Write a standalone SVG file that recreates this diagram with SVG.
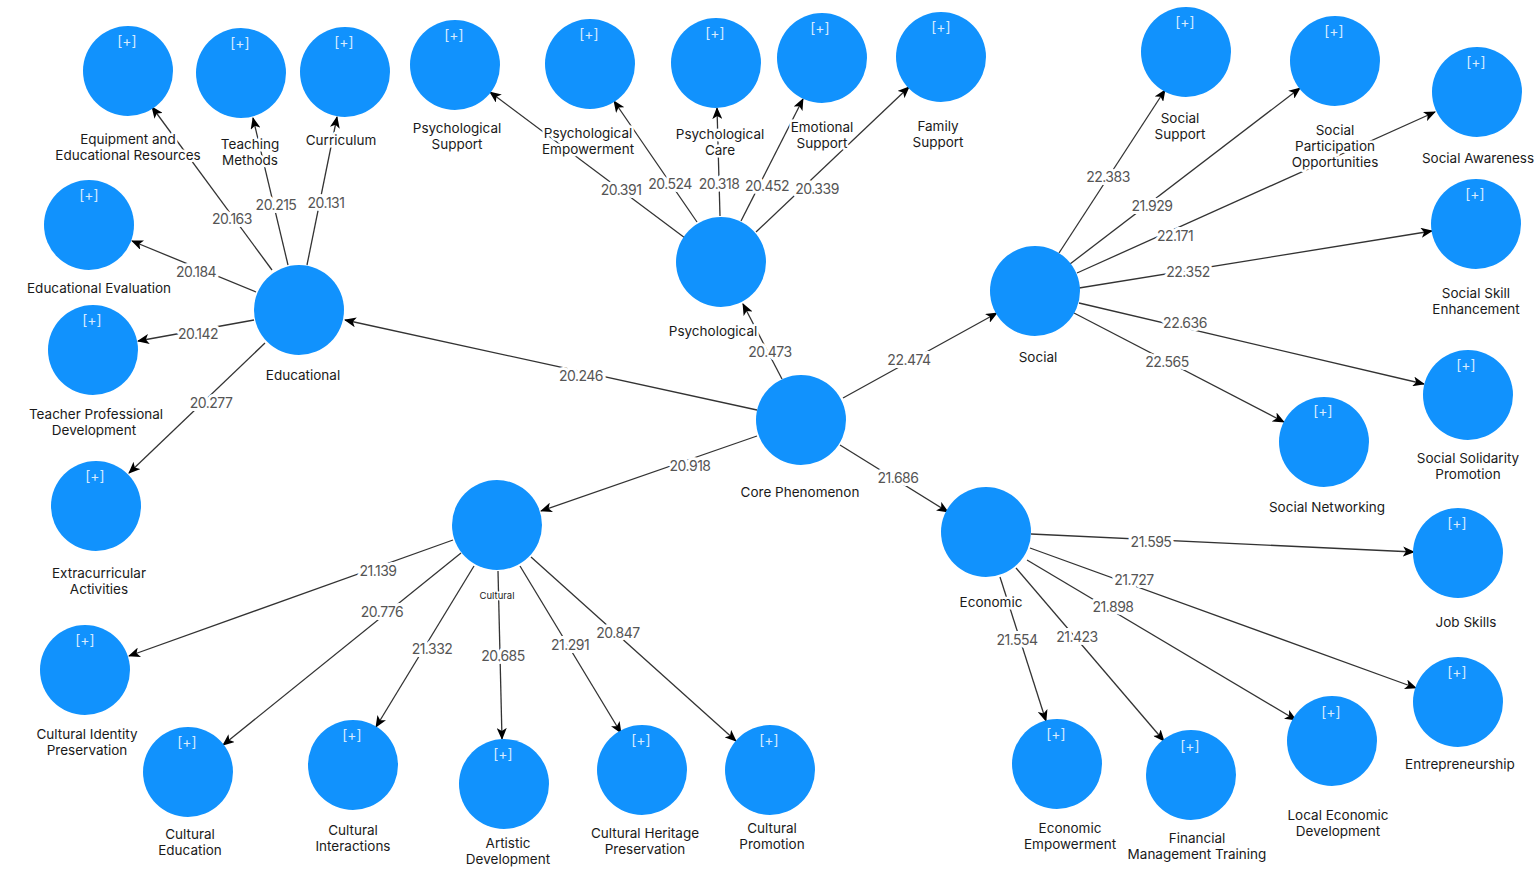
<svg xmlns="http://www.w3.org/2000/svg" width="1538" height="888" viewBox="0 0 1538 888">
<defs>
<marker id="ah" markerWidth="12" markerHeight="10" refX="11" refY="5" orient="auto" markerUnits="userSpaceOnUse">
<path d="M0,0 L12,5 L0,10 L3,5 Z" fill="#000"/>
</marker>
<style>
.c{fill:#1192FD}
.p{font-family:Inter,"Noto Sans",sans-serif;font-size:14px;fill:#d6ebff;text-anchor:middle}
.l{font-family:Inter,"Noto Sans",sans-serif;font-size:13.5px;fill:#1a1a1a;text-anchor:middle;paint-order:stroke;stroke:#fff;stroke-width:5px;stroke-linejoin:round}
.e{stroke:#333;stroke-width:1.3;fill:none;marker-end:url(#ah)}
.n{font-family:Inter,"Noto Sans",sans-serif;font-size:14px;fill:#555;text-anchor:middle;letter-spacing:-0.5px;paint-order:stroke;stroke:#fff;stroke-width:6px;stroke-linejoin:round}
</style>
</defs>
<rect width="1538" height="888" fill="#fff"/>
<g id="connectors">
<line class="e" x1="757" y1="410" x2="345" y2="320"/>
<line class="e" x1="782" y1="379" x2="743" y2="304"/>
<line class="e" x1="843" y1="398" x2="997" y2="313"/>
<line class="e" x1="757" y1="436" x2="541" y2="511"/>
<line class="e" x1="840" y1="445" x2="948" y2="512"/>
<line class="e" x1="272" y1="270" x2="152" y2="107"/>
<line class="e" x1="288" y1="265" x2="253" y2="118"/>
<line class="e" x1="307" y1="265" x2="337" y2="117"/>
<line class="e" x1="256" y1="292" x2="132" y2="241"/>
<line class="e" x1="254" y1="320" x2="138" y2="341"/>
<line class="e" x1="265" y1="343" x2="129" y2="473"/>
<line class="e" x1="685" y1="238" x2="490" y2="92"/>
<line class="e" x1="697" y1="222" x2="614" y2="101"/>
<line class="e" x1="720" y1="216" x2="717" y2="108"/>
<line class="e" x1="741" y1="221" x2="803" y2="99"/>
<line class="e" x1="756" y1="232" x2="909" y2="87"/>
<line class="e" x1="1059" y1="253" x2="1165" y2="90"/>
<line class="e" x1="1070" y1="264" x2="1300" y2="88"/>
<line class="e" x1="1077" y1="273" x2="1435" y2="112"/>
<line class="e" x1="1079" y1="288" x2="1432" y2="231"/>
<line class="e" x1="1079" y1="303" x2="1424" y2="384"/>
<line class="e" x1="1074" y1="313" x2="1284" y2="422"/>
<line class="e" x1="1031" y1="534" x2="1414" y2="552"/>
<line class="e" x1="1030" y1="548" x2="1416" y2="688"/>
<line class="e" x1="1027" y1="560" x2="1296" y2="720"/>
<line class="e" x1="1016" y1="568" x2="1164" y2="741"/>
<line class="e" x1="1000" y1="577" x2="1046" y2="721"/>
<line class="e" x1="453" y1="540" x2="129" y2="656"/>
<line class="e" x1="461" y1="553" x2="223" y2="745"/>
<line class="e" x1="474" y1="566" x2="376" y2="727"/>
<line class="e" x1="498" y1="571" x2="502" y2="739"/>
<line class="e" x1="520" y1="566" x2="621" y2="733"/>
<line class="e" x1="531" y1="557" x2="736" y2="741"/>
<g id="edge-labels">
<text class="n" x="581" y="381">20.246</text>
<text class="n" x="770" y="357">20.473</text>
<text class="n" x="909" y="365">22.474</text>
<text class="n" x="690" y="471">20.918</text>
<text class="n" x="898" y="483">21.686</text>
<text class="n" x="232" y="224">20.163</text>
<text class="n" x="276" y="210">20.215</text>
<text class="n" x="326" y="208">20.131</text>
<text class="n" x="196" y="277">20.184</text>
<text class="n" x="198" y="339">20.142</text>
<text class="n" x="211" y="408">20.277</text>
<text class="n" x="621" y="195">20.391</text>
<text class="n" x="670" y="189">20.524</text>
<text class="n" x="719" y="189">20.318</text>
<text class="n" x="767" y="191">20.452</text>
<text class="n" x="817" y="194">20.339</text>
<text class="n" x="1108" y="182">22.383</text>
<text class="n" x="1152" y="211">21.929</text>
<text class="n" x="1175" y="241">22.171</text>
<text class="n" x="1188" y="277">22.352</text>
<text class="n" x="1185" y="328">22.636</text>
<text class="n" x="1167" y="367">22.565</text>
<text class="n" x="1151" y="547">21.595</text>
<text class="n" x="1134" y="585">21.727</text>
<text class="n" x="1113" y="612">21.898</text>
<text class="n" x="1077" y="642">21.423</text>
<text class="n" x="1017" y="645">21.554</text>
<text class="n" x="378" y="576">21.139</text>
<text class="n" x="382" y="617">20.776</text>
<text class="n" x="432" y="654">21.332</text>
<text class="n" x="503" y="661">20.685</text>
<text class="n" x="570" y="650">21.291</text>
<text class="n" x="618" y="638">20.847</text>
</g>
</g>
<g id="nodes">
<g id="core"><circle class="c" cx="801" cy="420" r="45"/><text class="l" x="800" y="497">Core Phenomenon</text></g>
<g id="educational"><circle class="c" cx="299" cy="310" r="45"/><text class="l" x="303" y="380">Educational</text></g>
<g id="psychological"><circle class="c" cx="721" cy="262" r="45"/><text class="l" x="713" y="336">Psychological</text></g>
<g id="social"><circle class="c" cx="1035" cy="291" r="45"/><text class="l" x="1038" y="362">Social</text></g>
<g id="cultural"><circle class="c" cx="497" cy="525" r="45"/><text class="l" x="497" y="599" style="font-size:9.5px;stroke-width:3px">Cultural</text></g>
<g id="economic"><circle class="c" cx="986" cy="532" r="45"/><text class="l" x="991" y="607">Economic</text></g>

<g id="equipment"><circle class="c" cx="128" cy="71" r="45"/><text class="p" x="127" y="46">[+]</text><text class="l" x="128" y="144">Equipment and</text><text class="l" x="128" y="160">Educational Resources</text></g>
<g id="teaching"><circle class="c" cx="241" cy="73" r="45"/><text class="p" x="240" y="48">[+]</text><text class="l" x="250" y="149">Teaching</text><text class="l" x="250" y="165">Methods</text></g>
<g id="curriculum"><circle class="c" cx="345" cy="72" r="45"/><text class="p" x="344" y="47">[+]</text><text class="l" x="341" y="145">Curriculum</text></g>
<g id="evaluation"><circle class="c" cx="89" cy="225" r="45"/><text class="p" x="89" y="200">[+]</text><text class="l" x="99" y="293">Educational Evaluation</text></g>
<g id="teacher-pd"><circle class="c" cx="93" cy="350" r="45"/><text class="p" x="92" y="325">[+]</text><text class="l" x="96" y="419">Teacher Professional</text><text class="l" x="94" y="435">Development</text></g>
<g id="extracurricular"><circle class="c" cx="96" cy="506" r="45"/><text class="p" x="95" y="481">[+]</text><text class="l" x="99" y="578">Extracurricular</text><text class="l" x="99" y="594">Activities</text></g>

<g id="psych-support"><circle class="c" cx="455" cy="65" r="45"/><text class="p" x="454" y="40">[+]</text><text class="l" x="457" y="133">Psychological</text><text class="l" x="457" y="149">Support</text></g>
<g id="psych-empowerment"><circle class="c" cx="590" cy="64" r="45"/><text class="p" x="589" y="39">[+]</text><text class="l" x="588" y="138">Psychological</text><text class="l" x="588" y="154">Empowerment</text></g>
<g id="psych-care"><circle class="c" cx="716" cy="63" r="45"/><text class="p" x="715" y="38">[+]</text><text class="l" x="720" y="139">Psychological</text><text class="l" x="720" y="155">Care</text></g>
<g id="emotional"><circle class="c" cx="822" cy="58" r="45"/><text class="p" x="820" y="33">[+]</text><text class="l" x="822" y="132">Emotional</text><text class="l" x="822" y="148">Support</text></g>
<g id="family"><circle class="c" cx="941" cy="57" r="45"/><text class="p" x="941" y="32">[+]</text><text class="l" x="938" y="131">Family</text><text class="l" x="938" y="147">Support</text></g>

<g id="social-support"><circle class="c" cx="1186" cy="52" r="45"/><text class="p" x="1185" y="27">[+]</text><text class="l" x="1180" y="123">Social</text><text class="l" x="1180" y="139">Support</text></g>
<g id="social-participation"><circle class="c" cx="1335" cy="61" r="45"/><text class="p" x="1334" y="36">[+]</text><text class="l" x="1335" y="135">Social</text><text class="l" x="1335" y="151">Participation</text><text class="l" x="1335" y="167">Opportunities</text></g>
<g id="social-awareness"><circle class="c" cx="1477" cy="92" r="45"/><text class="p" x="1476" y="67">[+]</text><text class="l" x="1478" y="163">Social Awareness</text></g>
<g id="social-skill"><circle class="c" cx="1476" cy="224" r="45"/><text class="p" x="1475" y="199">[+]</text><text class="l" x="1476" y="298">Social Skill</text><text class="l" x="1476" y="314">Enhancement</text></g>
<g id="social-solidarity"><circle class="c" cx="1468" cy="395" r="45"/><text class="p" x="1466" y="370">[+]</text><text class="l" x="1468" y="463">Social Solidarity</text><text class="l" x="1468" y="479">Promotion</text></g>
<g id="social-networking"><circle class="c" cx="1324" cy="442" r="45"/><text class="p" x="1323" y="416">[+]</text><text class="l" x="1327" y="512">Social Networking</text></g>

<g id="job-skills"><circle class="c" cx="1458" cy="553" r="45"/><text class="p" x="1457" y="528">[+]</text><text class="l" x="1466" y="627">Job Skills</text></g>
<g id="entrepreneurship"><circle class="c" cx="1458" cy="702" r="45"/><text class="p" x="1457" y="677">[+]</text><text class="l" x="1460" y="769">Entrepreneurship</text></g>
<g id="local-econ"><circle class="c" cx="1332" cy="741" r="45"/><text class="p" x="1331" y="717">[+]</text><text class="l" x="1338" y="820">Local Economic</text><text class="l" x="1338" y="836">Development</text></g>
<g id="financial"><circle class="c" cx="1191" cy="775" r="45"/><text class="p" x="1190" y="751">[+]</text><text class="l" x="1197" y="843">Financial</text><text class="l" x="1197" y="859">Management Training</text></g>
<g id="econ-empowerment"><circle class="c" cx="1057" cy="764" r="45"/><text class="p" x="1056" y="739">[+]</text><text class="l" x="1070" y="833">Economic</text><text class="l" x="1070" y="849">Empowerment</text></g>

<g id="cultural-identity"><circle class="c" cx="85" cy="670" r="45"/><text class="p" x="85" y="645">[+]</text><text class="l" x="87" y="739">Cultural Identity</text><text class="l" x="87" y="755">Preservation</text></g>
<g id="cultural-education"><circle class="c" cx="188" cy="772" r="45"/><text class="p" x="187" y="747">[+]</text><text class="l" x="190" y="839">Cultural</text><text class="l" x="190" y="855">Education</text></g>
<g id="cultural-interactions"><circle class="c" cx="353" cy="765" r="45"/><text class="p" x="352" y="740">[+]</text><text class="l" x="353" y="835">Cultural</text><text class="l" x="353" y="851">Interactions</text></g>
<g id="artistic"><circle class="c" cx="504" cy="784" r="45"/><text class="p" x="503" y="759">[+]</text><text class="l" x="508" y="848">Artistic</text><text class="l" x="508" y="864">Development</text></g>
<g id="cultural-heritage"><circle class="c" cx="642" cy="770" r="45"/><text class="p" x="641" y="745">[+]</text><text class="l" x="645" y="838">Cultural Heritage</text><text class="l" x="645" y="854">Preservation</text></g>
<g id="cultural-promotion"><circle class="c" cx="770" cy="770" r="45"/><text class="p" x="769" y="745">[+]</text><text class="l" x="772" y="833">Cultural</text><text class="l" x="772" y="849">Promotion</text></g>
</g>
</svg>
